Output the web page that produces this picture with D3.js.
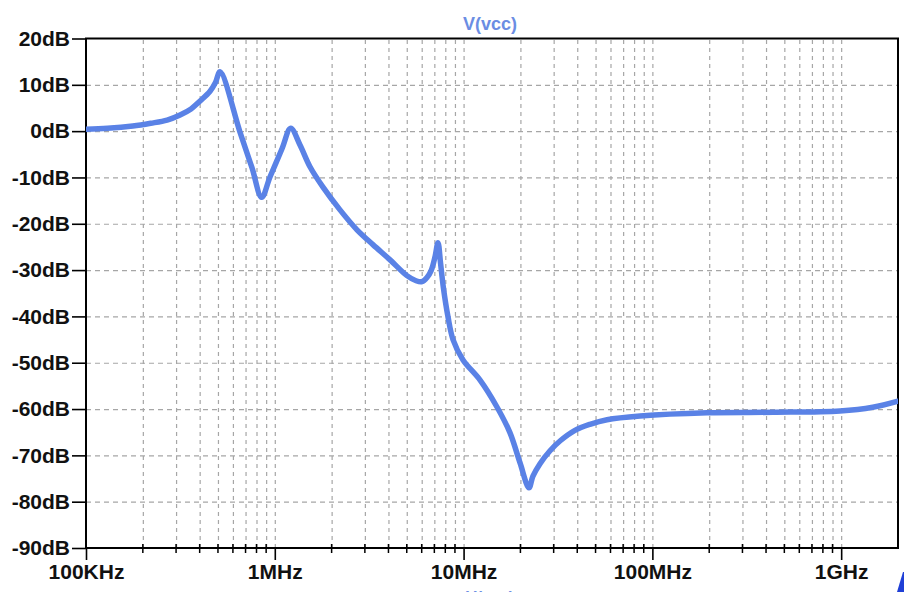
<!DOCTYPE html>
<html>
<head>
<meta charset="utf-8">
<script src="https://cdn.jsdelivr.net/npm/d3@7"></script>
<style>
body { margin: 0; background: #fff; }
svg text { font-family: "Liberation Sans", Arial, sans-serif; font-weight: bold; }
</style>
</head>
<body>
<svg id="bode" width="904" height="592"></svg>
<script>
/** Data **/
var freqs = [1.0e5, 1.3e5, 1.77e5, 2.2e5, 2.69e5, 3.15e5, 3.6e5, 4.02e5, 4.54e5, 4.85e5, 5.13e5,
             6.54e5, 7.57e5, 8.52e5, 9.43e5, 1.092e6, 1.214e6, 1.36e6, 1.536e6, 1.80e6, 2.215e6,
             2.725e6, 3.31e6, 4.08e6, 5.01e6, 5.6e6, 6.02e6, 6.4e6, 6.75e6, 7.06e6, 7.32e6,
             7.55e6, 7.8e6, 8.27e6, 8.79e6, 9.93e6, 1.22e7, 1.50e7, 1.76e7, 1.99e7, 2.22e7,
             2.33e7, 2.54e7, 2.87e7, 3.24e7, 3.89e7, 4.67e7, 5.75e7, 8.6e7, 1.95e8, 4.35e8,
             9.85e8, 1.47e9, 2.0e9];
var gainDb = [0.4, 0.6, 1.1, 1.7, 2.4, 3.5, 4.8, 6.5, 8.6, 10.5, 12.8,
              -0.2, -7.9, -14.3, -9.9, -3.8, 0.6, -3.0, -7.7, -12.1, -17.0,
              -21.3, -24.5, -27.8, -31.2, -32.3, -32.5, -31.6, -30.0, -27.1, -24.1,
              -28.5, -33.5, -40.1, -45.0, -49.4, -53.7, -59.5, -65.1, -71.6, -77.0,
              -74.5, -71.8, -69.0, -66.9, -64.6, -63.3, -62.3, -61.5, -60.8, -60.7,
              -60.4, -59.6, -58.3];

var xTickValues = [1e5, 1e6, 1e7, 1e8, 1e9];
var xTickLabels = ["100KHz", "1MHz", "10MHz", "100MHz", "1GHz"];
var yTickValues = [20, 10, 0, -10, -20, -30, -40, -50, -60, -70, -80, -90];
var traceName = "V(vcc)";

var color_trace = "#5a82e6";
var color_title = "#6b8de3";
var color_grid  = "#a6a6a6";

var plot_left = 86, plot_right = 898, plot_top = 38.5, plot_bottom = 548;

var svg = d3.select("#bode");

var xScale = d3.scaleLog()
    .domain([1e5, 2e9])
    .range([plot_left, plot_right]);

var yScale = d3.scaleLinear()
    .domain([-90, 20])
    .range([plot_bottom, plot_top]);

// every 1..9 step of each decade, edges excluded
var minorTicks = xScale.ticks().filter(function(d) {
    return d > 1e5 && d < 2e9;
});

// Grid lines
var gridX = d3.axisBottom(xScale)
    .tickValues(minorTicks)
    .tickSize(-(plot_bottom - plot_top))
    .tickFormat("");

svg.append("g")
    .attr("transform", "translate(0," + plot_bottom + ")")
    .call(gridX)
    .call(function(g) {
        g.select(".domain").remove();
        g.selectAll("line")
            .attr("stroke", color_grid)
            .attr("stroke-width", 1.2)
            .attr("stroke-dasharray", "4,4");
    });

var gridY = d3.axisLeft(yScale)
    .tickValues(yTickValues.filter(function(d) { return d > -90 && d < 20; }))
    .tickSize(-(plot_right - plot_left))
    .tickFormat("");

svg.append("g")
    .attr("transform", "translate(" + plot_left + ",0)")
    .call(gridY)
    .call(function(g) {
        g.select(".domain").remove();
        g.selectAll("line")
            .attr("stroke", color_grid)
            .attr("stroke-width", 1.2)
            .attr("stroke-dasharray", "5,4");
    });

// Frame
svg.append("rect")
    .attr("x", plot_left)
    .attr("y", plot_top)
    .attr("width", plot_right - plot_left)
    .attr("height", plot_bottom - plot_top)
    .attr("fill", "none")
    .attr("stroke", "#000")
    .attr("stroke-width", 2);

// Minor tick marks crossing the bottom axis
svg.append("g")
    .selectAll("line")
    .data(minorTicks.filter(function(d) { return xTickValues.indexOf(d) < 0; }))
    .enter()
    .append("line")
    .attr("x1", function(d) { return xScale(d); })
    .attr("x2", function(d) { return xScale(d); })
    .attr("y1", plot_bottom - 4)
    .attr("y2", plot_bottom + 5)
    .attr("stroke", "#000")
    .attr("stroke-width", 1.5);

// X axis (decades)
var xAxis = d3.axisBottom(xScale)
    .tickValues(xTickValues)
    .tickSize(12)
    .tickPadding(4)
    .tickFormat(function(d, i) { return xTickLabels[i]; });

svg.append("g")
    .attr("transform", "translate(0," + plot_bottom + ")")
    .call(xAxis)
    .call(function(g) {
        g.select(".domain").remove();
        g.selectAll("line").attr("stroke", "#000").attr("stroke-width", 1.6);
        g.selectAll("text")
            .attr("fill", "#111")
            .style("font-size", "21px")
            .style("font-family", "'Liberation Sans', Arial, sans-serif")
            .style("font-weight", "bold");
    });

// Y axis
var yAxis = d3.axisLeft(yScale)
    .tickValues(yTickValues)
    .tickSize(14)
    .tickPadding(2)
    .tickFormat(function(d) { return d + "dB"; });

svg.append("g")
    .attr("transform", "translate(" + plot_left + ",0)")
    .call(yAxis)
    .call(function(g) {
        g.select(".domain").remove();
        g.selectAll("line").attr("stroke", "#000").attr("stroke-width", 1.6);
        g.selectAll("text")
            .attr("fill", "#111")
            .style("font-size", "21px")
            .style("font-family", "'Liberation Sans', Arial, sans-serif")
            .style("font-weight", "bold");
    });

// Trace
svg.append("clipPath")
    .attr("id", "plotClip")
    .append("rect")
    .attr("x", plot_left)
    .attr("y", plot_top)
    .attr("width", plot_right - plot_left)
    .attr("height", plot_bottom - plot_top);

var line = d3.line()
    .x(function(d, i) { return xScale(freqs[i]); })
    .y(function(d) { return yScale(d); })
    .curve(d3.curveCatmullRom.alpha(0.5));

svg.append("path")
    .datum(gainDb)
    .attr("clip-path", "url(#plotClip)")
    .attr("d", line)
    .attr("fill", "none")
    .attr("stroke", color_trace)
    .attr("stroke-width", 5.5)
    .attr("stroke-linejoin", "round")
    .attr("stroke-linecap", "round");

// Trace name on top, and the one cut off at the bottom
svg.append("text")
    .attr("x", 490)
    .attr("y", 30)
    .attr("text-anchor", "middle")
    .attr("fill", color_title)
    .style("font-size", "18px")
    .text(traceName);

svg.append("text")
    .attr("x", 490)
    .attr("y", 603)
    .attr("text-anchor", "middle")
    .attr("fill", color_title)
    .style("font-size", "16px")
    .text(traceName);

// cursor fragment at the lower right corner
svg.append("path")
    .attr("d", "M897,592 L903,572 L904,572 L904,592 Z")
    .attr("fill", "#1f3fd6");
</script>
</body>
</html>
